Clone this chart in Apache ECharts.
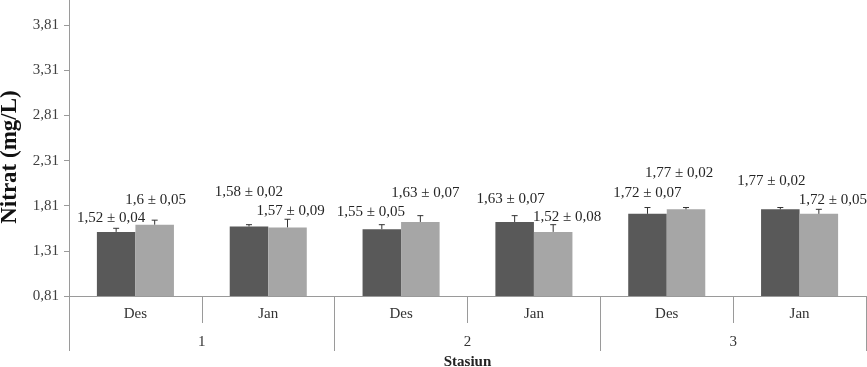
<!DOCTYPE html>
<html>
<head>
<meta charset="utf-8">
<script src="https://cdn.jsdelivr.net/npm/echarts@6/dist/echarts.min.js"></script>
<style>html,body{margin:0;padding:0;background:#fff}#chart{width:867px;height:367px}</style>
</head>
<body>
<div id="chart"></div>
<script>
// ---- data ----
const months = ['Des', 'Jan', 'Des', 'Jan', 'Des', 'Jan'];
const stations = ['1', '2', '3'];
const series1Values = [1.52, 1.58, 1.55, 1.63, 1.72, 1.77];
const series1Errors = [0.04, 0.02, 0.05, 0.07, 0.07, 0.02];
const series2Values = [1.6, 1.57, 1.63, 1.52, 1.77, 1.72];
const series2Errors = [0.05, 0.09, 0.07, 0.08, 0.02, 0.05];
const yTickMin = 0.81;
const yTickMax = 4.31;
const yTickStep = 0.5;

// ---- label placement (styling, not data) ----
const series1LabelOffsets = [[-5, -14], [0, -34], [-11, -17], [-4, -23], [0, -21], [-9, -28]];
const series2LabelOffsets = [[1, -25], [3, -16], [5, -29], [14, -15], [-7, -36], [14, -14]];

const FONT = 'Liberation Serif';
const GAP = 0.42;
const comma = v => String(v).replace('.', ',');
const fmtLabel = (v, e) => comma(v) + ' \u00b1 ' + e.toFixed(2).replace('.', ',');

function barData(vals, errs, offs) {
  return vals.map((v, i) => ({
    value: v,
    label: { offset: offs[i], formatter: fmtLabel(v, errs[i]) }
  }));
}

const errData = [];
series1Values.forEach((v, i) => errData.push([i, v, series1Errors[i], 0]));
series2Values.forEach((v, i) => errData.push([i, v, series2Errors[i], 1]));

const chart = echarts.init(document.getElementById('chart'), null, { renderer: 'canvas' });
const labelStyle = {
  show: true, position: 'top', distance: 0, verticalAlign: 'middle',
  fontFamily: FONT, fontSize: 15, color: '#262626'
};
chart.setOption({
  animation: false,
  backgroundColor: '#ffffff',
  grid: { left: 69, right: 1, top: -20, bottom: 71, containLabel: false, outerBoundsMode: 'none' },
  xAxis: [
    {
      type: 'category', data: months, position: 'bottom',
      axisLine: { show: true, lineStyle: { color: '#9a9a9a', width: 1 } },
      axisTick: { show: true, length: 27, interval: 0, lineStyle: { color: '#9a9a9a' } },
      axisLabel: { margin: 11, fontFamily: FONT, fontSize: 15, color: '#333' }
    },
    {
      type: 'category', data: stations, position: 'bottom',
      name: 'Stasiun', nameLocation: 'middle', nameGap: 56,
      nameTextStyle: { fontFamily: FONT, fontSize: 15, fontWeight: 'bold', color: '#222' },
      axisLine: { show: false },
      axisTick: { show: true, length: 55, interval: 0, lineStyle: { color: '#9a9a9a' } },
      axisLabel: { margin: 39, fontFamily: FONT, fontSize: 15, color: '#333' }
    }
  ],
  yAxis: {
    type: 'value', min: yTickMin, max: yTickMax, interval: yTickStep,
    name: 'Nitrat (mg/L)', nameLocation: 'middle', nameGap: 47, nameRotate: 90,
    nameTextStyle: { fontFamily: FONT, fontSize: 23, fontWeight: 'bold', color: '#111', padding: [0, 38, 0, 0] },
    axisLine: { show: true, lineStyle: { color: '#9a9a9a' } },
    axisTick: { show: true, length: 5, lineStyle: { color: '#9a9a9a' } },
    splitLine: { show: false },
    axisLabel: {
      margin: 10, fontFamily: FONT, fontSize: 15, color: '#404040',
      formatter: v => v.toFixed(2).replace('.', ',')
    }
  },
  series: [
    {
      type: 'bar', name: 'Series 1', xAxisIndex: 0,
      data: barData(series1Values, series1Errors, series1LabelOffsets),
      itemStyle: { color: '#595959' },
      barGap: '0%', barCategoryGap: (GAP * 100) + '%',
      label: labelStyle
    },
    {
      type: 'bar', name: 'Series 2', xAxisIndex: 0,
      data: barData(series2Values, series2Errors, series2LabelOffsets),
      itemStyle: { color: '#a6a6a6' },
      barGap: '0%', barCategoryGap: (GAP * 100) + '%',
      label: labelStyle
    },
    {
      type: 'custom', name: 'error', xAxisIndex: 0, z: 5,
      data: errData,
      encode: { x: 0, y: 1 },
      renderItem: function (params, api) {
        const idx = api.value(0), v = api.value(1), e = api.value(2), s = api.value(3);
        const base = api.coord([idx, v]);
        const top = api.coord([idx, v + e]);
        const band = api.size([1, 0])[0];
        const bw = band * (1 - GAP) / 2;
        const x = base[0] + (s === 0 ? -bw / 2 : bw / 2);
        const st = { stroke: '#333', lineWidth: 1 };
        return {
          type: 'group',
          children: [
            { type: 'line', shape: { x1: x, y1: base[1], x2: x, y2: top[1] }, style: st },
            { type: 'line', shape: { x1: x - 3, y1: top[1], x2: x + 3, y2: top[1] }, style: st }
          ]
        };
      }
    }
  ]
});
</script>
</body>
</html>
